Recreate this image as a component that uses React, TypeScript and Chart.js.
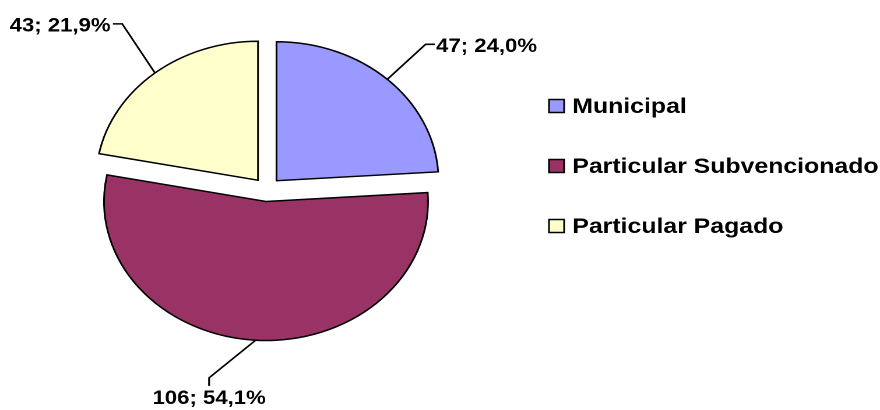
import React, { useEffect, useRef } from "react";
import { Chart, registerables } from "chart.js";

Chart.register(...registerables);

// ---- data ----
const categories = ["Municipal", "Particular Subvencionado", "Particular Pagado"];
const counts = [47, 106, 43];
const sliceColors = ["#9999FF", "#993366", "#FFFFCC"];

// ---- layout / style ----
const CANVAS_W = 755; // logical width, stretched horizontally to 880 by CSS (like the reference)
const CANVAS_H = 410;
const EXPLODE = 12;
const FONT = "'Liberation Sans', Arial, Helvetica, sans-serif";
const labelLayout = [
  { r: 187, shift: 0, tick: "right" },
  { r: 183, shift: 11.8, tick: "down" },
  { r: 195, shift: 2.8, tick: "left" },
];

const total = counts.reduce((a, b) => a + b, 0);
const fmtPct = (v: number) => ((v / total) * 100).toFixed(1).replace(".", ",") + "%";

const explodePlugin = {
  id: "explode",
  beforeDatasetDraw(chart: any, args: any) {
    const ctx = chart.ctx;
    args.meta.data.forEach((arc: any) => {
      const { startAngle, endAngle } = arc.getProps(["startAngle", "endAngle"], true);
      const mid = (startAngle + endAngle) / 2;
      ctx.save();
      ctx.translate(Math.cos(mid) * EXPLODE, Math.sin(mid) * EXPLODE);
      arc.draw(ctx, chart.chartArea);
      ctx.restore();
    });
    return false;
  },
};

const labelPlugin = {
  id: "leaderLabels",
  afterDatasetsDraw(chart: any) {
    const ctx = chart.ctx;
    const meta = chart.getDatasetMeta(0);
    const values = chart.data.datasets[0].data as number[];
    ctx.save();
    ctx.strokeStyle = "#000";
    ctx.fillStyle = "#000";
    ctx.lineWidth = 1.6;
    ctx.lineJoin = "miter";
    ctx.font = `bold 19px ${FONT}`;
    meta.data.forEach((arc: any, i: number) => {
      const { x, y, startAngle, endAngle, outerRadius } = arc.getProps(
        ["x", "y", "startAngle", "endAngle", "outerRadius"],
        true
      );
      const mid = (startAngle + endAngle) / 2;
      const cx = x + Math.cos(mid) * EXPLODE;
      const cy = y + Math.sin(mid) * EXPLODE;
      const ax = cx + Math.cos(mid) * outerRadius;
      const ay = cy + Math.sin(mid) * outerRadius;
      const lay = labelLayout[i];
      const ea = mid + (lay.shift * Math.PI) / 180;
      const ex = cx + Math.cos(ea) * lay.r;
      const ey = cy + Math.sin(ea) * lay.r;
      let tx = ex, ty = ey;
      if (lay.tick === "right") tx = ex + 8;
      else if (lay.tick === "left") tx = ex - 8;
      else ty = ey + 8;
      ctx.beginPath();
      ctx.moveTo(ax, ay);
      ctx.lineTo(ex, ey);
      ctx.lineTo(tx, ty);
      ctx.stroke();
      const text = `${values[i]}; ${fmtPct(values[i])}`;
      ctx.textBaseline = "alphabetic";
      if (lay.tick === "right") {
        ctx.textAlign = "left";
        ctx.fillText(text, tx + 1, ty + 7.5);
      } else if (lay.tick === "left") {
        ctx.textAlign = "right";
        ctx.fillText(text, tx - 2, ty + 7.5);
      } else {
        ctx.textAlign = "center";
        ctx.fillText(text, tx, ty + 18);
      }
    });
    ctx.restore();
  },
};

const legendPlugin = {
  id: "sideLegend",
  afterDraw(chart: any) {
    const ctx = chart.ctx;
    const labels = chart.data.labels as string[];
    const colors = chart.data.datasets[0].backgroundColor as string[];
    ctx.save();
    ctx.font = `bold 21.3px ${FONT}`;
    ctx.textAlign = "left";
    ctx.textBaseline = "alphabetic";
    labels.forEach((lab, i) => {
      const baseY = 113 + i * 60;
      ctx.fillStyle = colors[i];
      ctx.fillRect(471, baseY - 13.5, 13, 13);
      ctx.strokeStyle = "#000";
      ctx.lineWidth = 1.5;
      ctx.strokeRect(471, baseY - 13.5, 13, 13);
      ctx.fillStyle = "#000";
      ctx.fillText(lab, 491, baseY);
    });
    ctx.restore();
  },
};

export default function App() {
  const ref = useRef<HTMLCanvasElement | null>(null);
  useEffect(() => {
    if (!ref.current) return;
    const chart = new Chart(ref.current, {
      type: "pie",
      data: {
        labels: categories,
        datasets: [
          {
            data: counts,
            backgroundColor: sliceColors,
            borderColor: "#000",
            borderWidth: 1.5,
            borderJoinStyle: "miter",
          } as any,
        ],
      },
      options: {
        responsive: false,
        animation: false,
        devicePixelRatio: 2,
        radius: 139,
        layout: { padding: { left: 0, right: 297, top: 0, bottom: 31 } },
        plugins: {
          legend: { display: false },
          tooltip: { enabled: false },
          title: { display: false },
        },
        events: [],
      } as any,
      plugins: [explodePlugin, labelPlugin, legendPlugin],
    });
    return () => chart.destroy();
  }, []);
  return (
    <div style={{ position: "fixed", left: 0, top: 0, width: 880, height: 410, background: "#fff" }}>
      <canvas ref={ref} width={CANVAS_W} height={CANVAS_H} style={{ width: "880px", height: "410px" }} />
    </div>
  );
}
